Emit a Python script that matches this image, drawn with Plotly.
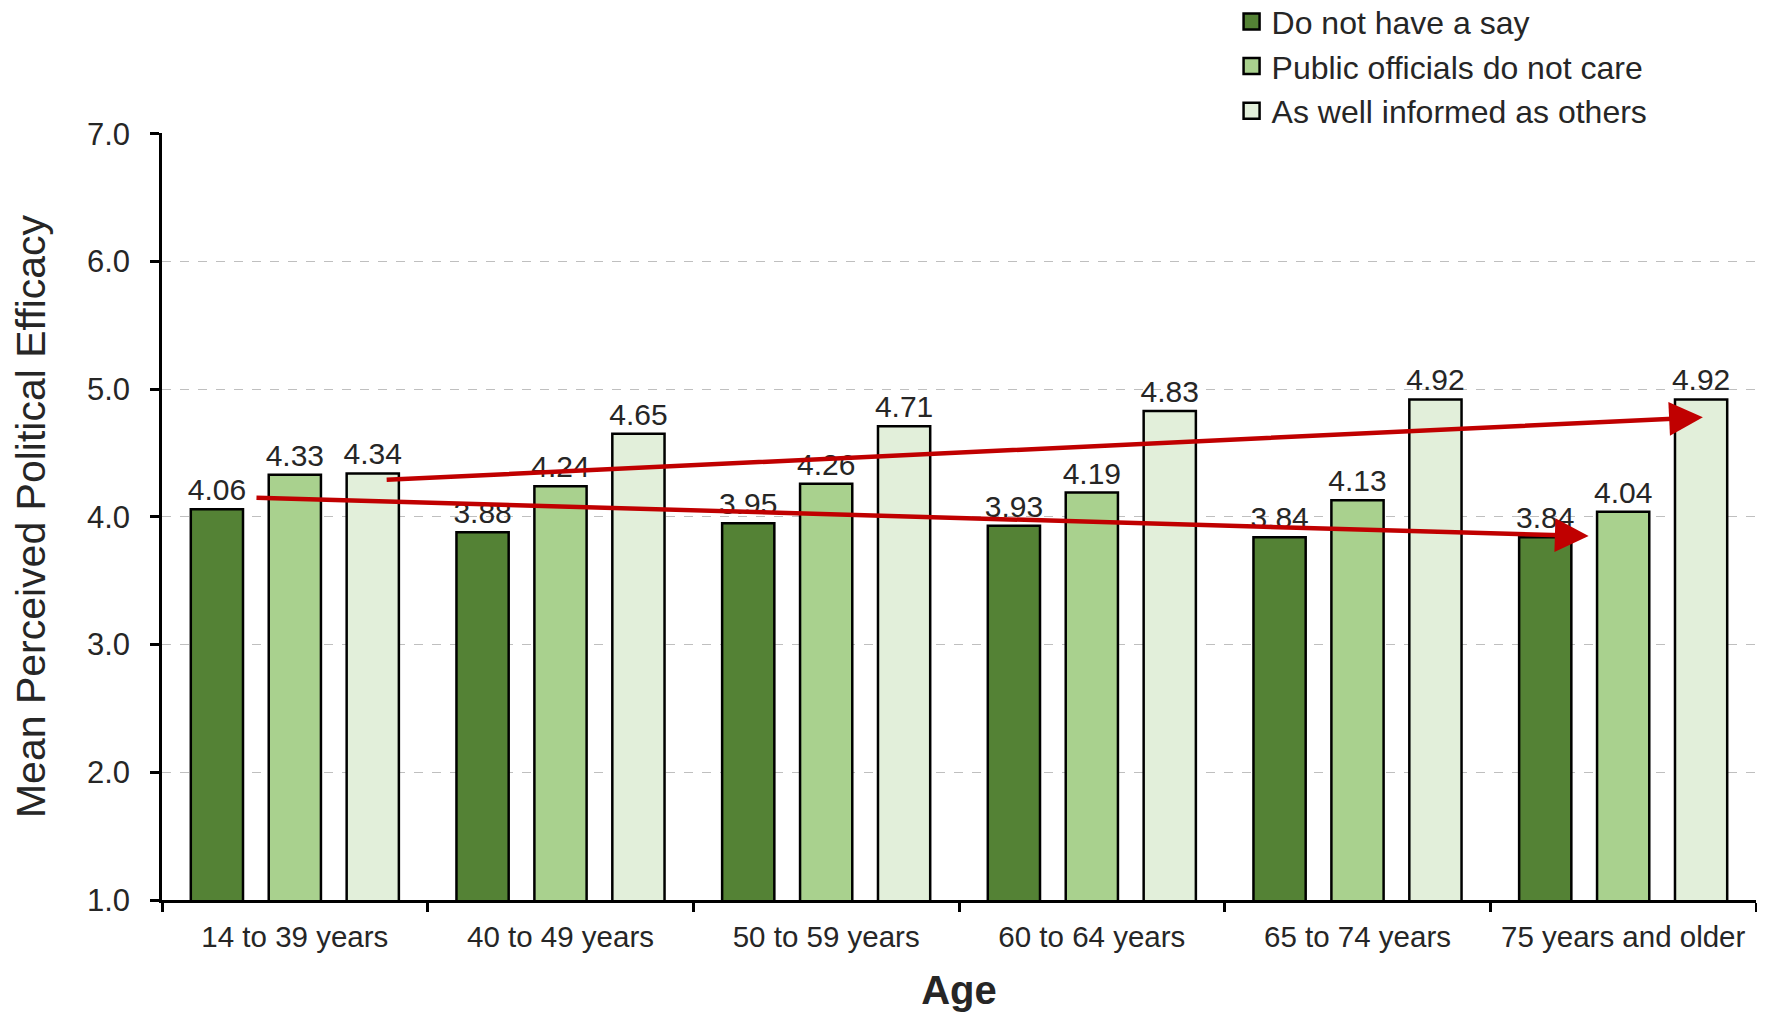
import plotly.graph_objects as go

ages = ['14 to 39 years', '40 to 49 years', '50 to 59 years',
        '60 to 64 years', '65 to 74 years', '75 years and older']
no_say = [4.06, 3.88, 3.95, 3.93, 3.84, 3.84]
dont_care = [4.33, 4.24, 4.26, 4.19, 4.13, 4.04]
well_informed = [4.34, 4.65, 4.71, 4.83, 4.92, 4.92]

series_names = ['Do not have a say', 'Public officials do not care', 'As well informed as others']
colors = ['#548235', '#A9D18E', '#E2EFDA']

# trend arrows (start x, start y, end x, end y) in axis units
trend_arrows = [
    (-0.15, 4.15, 4.87, 3.85),
    (0.34, 4.29, 5.30, 4.78),
]

FONT = 'Liberation Sans, Arial, sans-serif'

fig = go.Figure()
for i, (name, vals) in enumerate(zip(series_names, [no_say, dont_care, well_informed])):
    fig.add_trace(go.Bar(
        x=ages, y=vals, name=name, showlegend=False,
        marker=dict(color=colors[i], line=dict(color='black', width=2.5)),
        text=['%.2f' % v for v in vals], textposition='outside',
        textfont=dict(size=30, color='#262626'), cliponaxis=False,
        constraintext='none',
    ))

# legend entries with bigger square swatches
for i, name in enumerate(series_names):
    fig.add_trace(go.Scatter(
        x=[None], y=[None], mode='markers', name=name, legendgroup=name,
        marker=dict(symbol='square', size=17, color=colors[i],
                    line=dict(color='black', width=2.5)),
    ))

for x0, y0, x1, y1 in trend_arrows:
    fig.add_annotation(
        x=x1, y=y1, ax=x0, ay=y0, xref='x', yref='y', axref='x', ayref='y',
        showarrow=True, arrowhead=2, arrowsize=1.5, arrowwidth=4.5,
        arrowcolor='#C00000', text='',
    )

# page body has an 8px margin, so the figure is a bit smaller than the window
fig.update_layout(
    width=1757, height=1005,
    margin=dict(l=154, r=9, t=125, b=113, autoexpand=False),
    paper_bgcolor='white', plot_bgcolor='white',
    font=dict(family=FONT, size=30, color='#262626'),
    barmode='group', bargap=0.12, bargroupgap=0.33,
    showlegend=True,
    legend=dict(x=0.671, y=1.181, xanchor='left', yanchor='top',
                font=dict(size=32, color='#262626'), tracegroupgap=0,
                itemsizing='trace', bgcolor='rgba(0,0,0,0)'),
)
fig.update_yaxes(
    range=[1, 7.006], dtick=1, tickformat='.1f',
    showline=True, linecolor='black', linewidth=2.5,
    ticks='outside', ticklen=9, tickwidth=2.5, tickcolor='black',
    ticklabelstandoff=14,
    showgrid=True, gridcolor='#BFBFBF', griddash='dash', gridwidth=1,
    zeroline=False, tickfont=dict(size=31),
    title=dict(text='Mean Perceived Political Efficacy', font=dict(size=41), standoff=32),
)
fig.update_xaxes(
    showline=True, linecolor='black', linewidth=2.5,
    ticks='outside', tickson='boundaries', ticklen=9, tickwidth=2.5, tickcolor='black',
    ticklabelstandoff=9,
    tickfont=dict(size=29.5), tickangle=0,
    title=dict(text='<b>Age</b>', font=dict(size=40), standoff=24),
)

fig.write_html('out.html')
